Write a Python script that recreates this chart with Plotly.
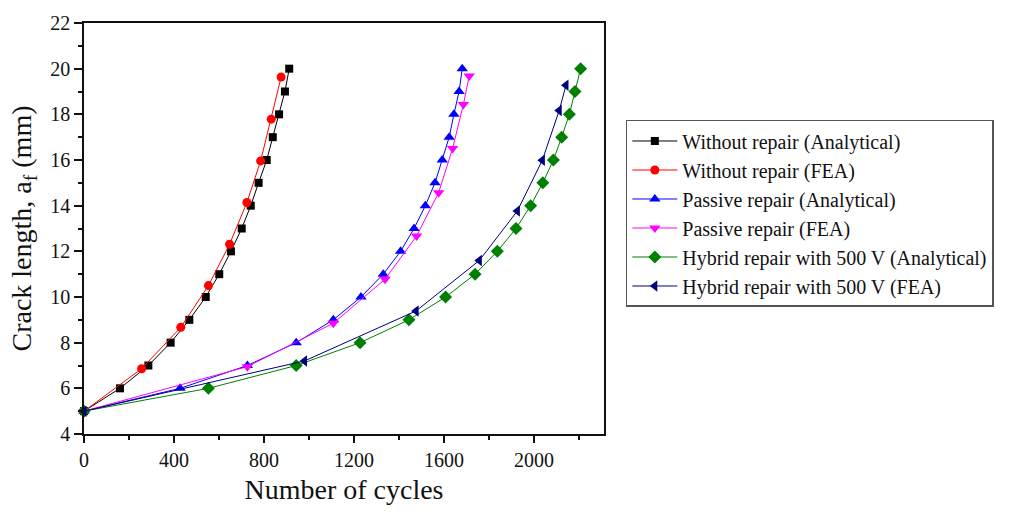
import plotly.graph_objects as go

# Crack growth curves: number of cycles vs. crack length a_f (mm)
wo_ana_cycles = [0, 160, 286, 385, 468, 541, 601, 653, 701, 741, 776, 812, 839, 867, 893, 912]
wo_ana_crack = [5, 6, 7, 8, 9, 10, 11, 12, 13, 14, 15, 16, 17, 18, 19, 20]

wo_fea_cycles = [0, 256, 430, 553, 647, 724, 785, 832, 876]
wo_fea_crack = [5, 6.86, 8.67, 10.5, 12.31, 14.14, 15.96, 17.79, 19.63]

pa_ana_cycles = [0, 427, 726, 943, 1108, 1231, 1330, 1407, 1467, 1517, 1560, 1592, 1623, 1644, 1667, 1681]
pa_ana_crack = [5, 6, 7, 8, 9, 10, 11, 12, 13, 14, 15, 16, 17, 18, 19, 20]

pa_fea_cycles = [0, 726, 1108, 1338, 1478, 1576, 1638, 1686, 1712]
pa_fea_crack = [5, 6.95, 8.85, 10.78, 12.67, 14.57, 16.5, 18.43, 19.68]

hy_ana_cycles = [0, 553, 943, 1227, 1444, 1607, 1738, 1837, 1920, 1985, 2039, 2086, 2123, 2157, 2182, 2207]
hy_ana_crack = [5, 6, 7, 8, 9, 10, 11, 12, 13, 14, 15, 16, 17, 18, 19, 20]

hy_fea_cycles = [0, 980, 1476, 1757, 1926, 2037, 2112, 2142]
hy_fea_crack = [5, 7.2, 9.39, 11.6, 13.77, 15.99, 18.17, 19.27]

series = [
    ("Without repair (Analytical)", wo_ana_cycles, wo_ana_crack, "#000000", "square", 8),
    ("Without repair (FEA)", wo_fea_cycles, wo_fea_crack, "#FF0000", "circle", 9),
    ("Passive repair (Analytical)", pa_ana_cycles, pa_ana_crack, "#0000FF", "triangle-up", 10),
    ("Passive repair (FEA)", pa_fea_cycles, pa_fea_crack, "#FF00FF", "triangle-down", 10),
    ("Hybrid repair with 500 V (Analytical)", hy_ana_cycles, hy_ana_crack, "#008000", "diamond", 10),
    ("Hybrid repair with 500 V (FEA)", hy_fea_cycles, hy_fea_crack, "#000080", "triangle-left", 10),
]

fig = go.Figure()
for name, xs, ys, color, symbol, size in series:
    fig.add_trace(go.Scatter(
        x=xs, y=ys, name=name, mode="lines+markers",
        line=dict(color=color, width=1),
        marker=dict(symbol=symbol, size=size, color=color, line=dict(width=0)),
        cliponaxis=False,
    ))

serif = "Liberation Serif, Times New Roman, serif"

fig.update_layout(
    width=1020, height=512,
    margin=dict(l=84, r=416, t=19, b=73),
    paper_bgcolor="white", plot_bgcolor="white",
    font=dict(family=serif, color="#111111"),
    showlegend=True,
    legend=dict(
        x=1.042, y=0.764, xanchor="left", yanchor="top",
        font=dict(family=serif, size=20, color="#111111"),
        bordercolor="#555555", borderwidth=1.5,
        itemwidth=45, tracegroupgap=0,
        bgcolor="white",
    ),
    xaxis=dict(
        range=[0, 2311], tickmode="linear", tick0=0, dtick=400,
        ticks="outside", ticklen=7, tickwidth=1.5, tickcolor="#111111",
        minor=dict(dtick=200, ticks="outside", ticklen=4, tickwidth=1.5, tickcolor="#111111"),
        showline=True, linecolor="#111111", linewidth=1.5, mirror=True,
        showgrid=False, zeroline=False,
        tickfont=dict(size=20, family=serif),
        title=dict(text="Number of cycles", font=dict(size=28, family=serif), standoff=10),
    ),
    yaxis=dict(
        range=[4, 22], tickmode="linear", tick0=4, dtick=2,
        ticks="outside", ticklen=8, tickwidth=1.5, tickcolor="#111111",
        minor=dict(dtick=1, ticks="outside", ticklen=4, tickwidth=1.5, tickcolor="#111111"),
        showline=True, linecolor="#111111", linewidth=1.5, mirror=True,
        showgrid=False, zeroline=False,
        tickfont=dict(size=20, family=serif),
        title=dict(text="Crack length, a<sub>f</sub> (mm)", font=dict(size=28, family=serif), standoff=10),
    ),
)

fig.write_html("out.html")
